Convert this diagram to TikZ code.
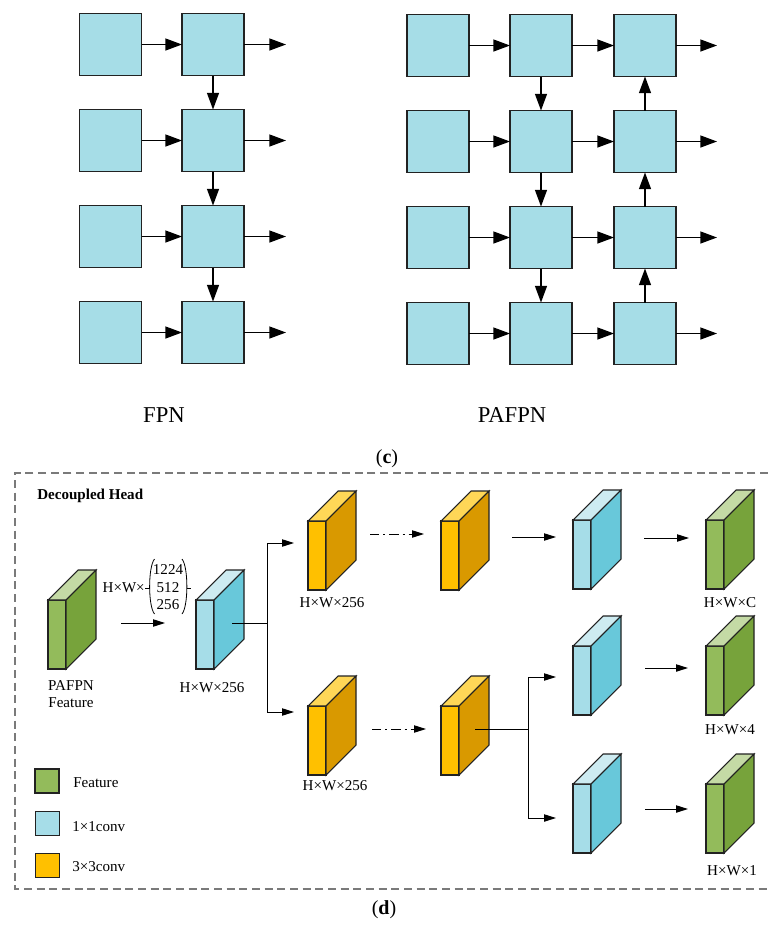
\documentclass[tikz,border=0pt]{standalone}
\usepackage{fontspec}
\setmainfont{Liberation Serif}
\usetikzlibrary{arrows.meta}

\definecolor{gridfill}{HTML}{A6DDE7}
\definecolor{gfront}{HTML}{93BB5B}
\definecolor{gside}{HTML}{77A33B}
\definecolor{gtop}{HTML}{C4DAA5}
\definecolor{bfront}{HTML}{A6DDE8}
\definecolor{bside}{HTML}{68C8DA}
\definecolor{btop}{HTML}{CDEBF1}
\definecolor{ofront}{HTML}{FFC000}
\definecolor{oside}{HTML}{D99900}
\definecolor{otop}{HTML}{FFD757}
\definecolor{edge}{HTML}{222222}
\definecolor{frame}{HTML}{7A7A7A}

% 3-D feature block: #1 name, (#2,#3) front top-left corner, #4 colour prefix
\newcommand\cubeblock[4]{%
  \coordinate (#1) at (#2,#3);
  \filldraw[fill=#4front, draw=edge, line width=0.8pt] (#1) rectangle ++(18,69);
  \filldraw[fill=#4top, draw=edge, line width=0.8pt] (#1) -- ++(18,0) -- ++(30,-30) -- ++(-18,0) -- cycle;
  \filldraw[fill=#4side, draw=edge, line width=0.8pt] (#1) ++(18,0) -- ++(30,-30) -- ++(0,69) -- ++(-30,30) -- cycle;
}

\begin{document}
\begin{tikzpicture}[x=0.75pt,y=-0.75pt,
  fmap/.style={draw=edge, fill=gridfill, line width=1.1pt, minimum size=46.5pt, inner sep=0pt, outer sep=0pt},
  garrow/.style={-{Triangle[length=12.5pt,width=9pt]}, line width=1pt},
  harrow/.style={-{Triangle[length=9pt,width=5.5pt]}, line width=0.75pt},
  hline/.style={line width=0.75pt},
  lbl/.style={font=\fontsize{11.3}{13.5}\selectfont, inner sep=0pt},
  biglbl/.style={font=\fontsize{17}{20}\selectfont, inner sep=0pt},
  sublbl/.style={font=\fontsize{15}{18}\selectfont, inner sep=0pt},
  legendbox/.style={draw=edge, line width=0.9pt, minimum width=18pt, minimum height=18pt, inner sep=0pt}]
\useasboundingbox (0,0) rectangle (768,947);

% ---------------- FPN ----------------
\foreach \r/\y in {1/44.5,2/140.5,3/236.5,4/332.5}{
  \node[fmap] (fa\r) at (110.5,\y) {};
  \node[fmap] (fb\r) at (213,\y) {};
  \coordinate (fo\r) at (286,\y);
  \draw[garrow] (fa\r) -- (fb\r);
  \draw[garrow] (fb\r) -- (fo\r);
}
\foreach \r/\s in {1/2,2/3,3/4}{
  \draw[garrow] (fb\r) -- (fb\s);
}
\node[biglbl] (fpnlab) at (164,415) {FPN};

% ---------------- PAFPN ----------------
\foreach \r/\y in {1/45.5,2/141.5,3/237.5,4/333.5}{
  \node[fmap] (pa\r) at (438,\y) {};
  \node[fmap] (pb\r) at (541,\y) {};
  \node[fmap] (pc\r) at (645,\y) {};
  \coordinate (po\r) at (717,\y);
  \draw[garrow] (pa\r) -- (pb\r);
  \draw[garrow] (pb\r) -- (pc\r);
  \draw[garrow] (pc\r) -- (po\r);
}
\foreach \r/\s in {1/2,2/3,3/4}{
  \draw[garrow] (pb\r) -- (pb\s);
  \draw[garrow] (pc\s) -- (pc\r);
}
\node[biglbl] (pafpnlab) at (512,415) {PAFPN};
\node[sublbl] (capc) at (387,459) {(\textbf{c})};

% ---------------- Decoupled head ----------------
\draw[frame, line width=1.1pt, dash pattern=on 6pt off 3.5pt] (768,473) -- (15,473) -- (15,889) -- (768,889);
\node[lbl, anchor=west, font=\fontsize{11.3}{13.5}\selectfont\bfseries] (title) at (37,496) {Decoupled Head};

\cubeblock{g0}{48}{600}{g}
\cubeblock{b0}{196}{600}{b}
\cubeblock{o1}{308}{521}{o}
\cubeblock{o2}{441}{521}{o}
\cubeblock{b1}{573}{520}{b}
\cubeblock{g1}{706}{520}{g}
\cubeblock{o3}{308}{706}{o}
\cubeblock{o4}{441}{706}{o}
\cubeblock{b2}{573}{646}{b}
\cubeblock{g2}{706}{646}{g}
\cubeblock{b3}{573}{784}{b}
\cubeblock{g3}{706}{784}{g}

% channel annotation
\node[lbl, anchor=east] (hw) at (145,588) {H×W×};
\node[lbl] (n1) at (168,570) {1224};
\node[lbl] (n2) at (168,588) {512};
\node[lbl] (n3) at (168,605) {256};
\coordinate (pl) at (149.5,588);
\coordinate (pr) at (187,588);
\draw[hline] (hw.east) -- (pl);
\draw[hline] (pr) -- ++(4,0);
\draw[line width=0.6pt] (154.5,559) .. controls (148,567) and (148,606) .. (154.5,614);
\draw[line width=0.6pt] (182,559) .. controls (188.5,567) and (188.5,606) .. (182,614);

\coordinate (a0s) at (121,623);
\coordinate (a0e) at (165,623);
\draw[harrow] (a0s) -- (a0e);

\node[lbl, align=center, font=\fontsize{11.3}{13.3}\selectfont] (g0lab) at (71,694) {PAFPN\\Feature};
\node[lbl] (b0lab) at (212,688) {H×W×256};
\node[lbl] (o1lab) at (332,603) {H×W×256};
\node[lbl] (o3lab) at (335,786) {H×W×256};
\node[lbl] (g1lab) at (730,603) {H×W×C};
\node[lbl] (g2lab) at (730,730) {H×W×4};
\node[lbl] (g3lab) at (732,871) {H×W×1};

% first split
\coordinate (b0out) at (232,623);
\coordinate (j1) at (267,623);
\coordinate (o1in) at (294,543);
\coordinate (o3in) at (294,712);
\draw[hline] (b0out) -- (j1);
\draw[harrow] (j1) |- (o1in);
\draw[harrow] (j1) |- (o3in);

% repeated 3x3 convs
\coordinate (d1s) at (370,534);
\coordinate (d1e) at (424,534);
\coordinate (d2s) at (372,729);
\coordinate (d2e) at (426,729);
\draw[harrow, dash pattern=on 7pt off 3pt on 1.5pt off 3pt] (d1s) -- (d1e);
\draw[harrow, dash pattern=on 7pt off 3pt on 1.5pt off 3pt] (d2s) -- (d2e);

% classification branch
\coordinate (c1s) at (512,537);
\coordinate (c1e) at (556,537);
\draw[harrow] (c1s) -- (c1e);
\coordinate (c2s) at (644,538);
\coordinate (c2e) at (689,538);
\draw[harrow] (c2s) -- (c2e);

% regression / objectness split
\coordinate (o4out) at (475,729);
\coordinate (j2) at (528,729);
\coordinate (b2in) at (556,677);
\coordinate (b3in) at (556,818);
\draw[hline] (o4out) -- (j2);
\draw[harrow] (j2) |- (b2in);
\draw[harrow] (j2) |- (b3in);
\coordinate (r1s) at (645,668);
\coordinate (r1e) at (688,668);
\draw[harrow] (r1s) -- (r1e);
\coordinate (r2s) at (645,809);
\coordinate (r2e) at (688,809);
\draw[harrow] (r2s) -- (r2e);

% legend
\node[legendbox, fill=gfront] (lg) at (47,781) {};
\node[legendbox, fill=bfront] (lb) at (47.5,823.5) {};
\node[legendbox, fill=ofront] (lo) at (47.5,865.5) {};
\node[lbl, anchor=west] (lgt) at (73,783) {Feature};
\node[lbl, anchor=west] (lbt) at (72,827) {1×1conv};
\node[lbl, anchor=west] (lot) at (72,867) {3×3conv};

\node[sublbl] (capd) at (384,910) {(\textbf{d})};
\end{tikzpicture}
\end{document}
